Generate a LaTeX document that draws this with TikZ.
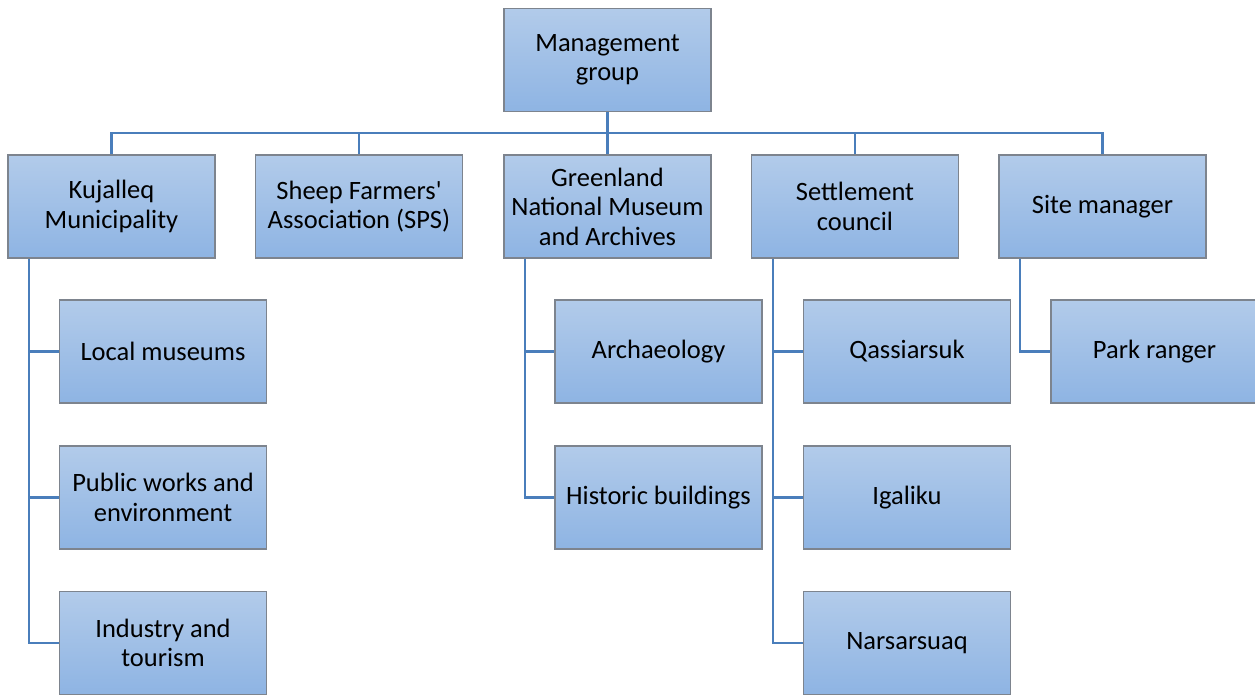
\documentclass[tikz,border=0pt]{standalone}
\usepackage{fontspec}
\setmainfont{Carlito}[Ligatures=TeXOff]
\definecolor{boxtop}{RGB}{178,203,234}
\definecolor{boxbot}{RGB}{142,180,227}
\definecolor{boxline}{RGB}{125,132,142}
\definecolor{conn}{RGB}{74,126,187}
\begin{document}
\begin{tikzpicture}[x=1pt,y=-1pt,
  box/.style={draw=boxline, line width=1.6pt, top color=boxtop, bottom color=boxbot,
    minimum width=207pt, minimum height=103pt, inner sep=0pt, align=center,
    font=\fontsize{26.5}{29.5}\selectfont},
  link/.style={draw=conn, line width=2.6pt}]
\useasboundingbox (0,0) rectangle (1255,695);
% top
\node[box] (mg) at (607.5,60) {Management\\group};
% level 1
\node[box] (kj) at (111.5,206.5) {Kujalleq\\Municipality};
\node[box] (sps) at (359,206.5) {Sheep Farmers'\\Association (SPS)};
\node[box] (gnm) at (607.5,206.5) {Greenland\\National Museum\\and Archives};
\node[box] (sc) at (855,206.5) {Settlement\\council};
\node[box] (sm) at (1102.5,206.5) {Site manager};
% level 2
\node[box] (lm) at (163,351.5) {Local museums};
\node[box] (pw) at (163,497.5) {Public works and\\environment};
\node[box] (it) at (163,643) {Industry and\\tourism};
\node[box] (ar) at (658.5,351.5) {Archaeology};
\node[box] (hb) at (658.5,497.5) {Historic buildings};
\node[box] (qa) at (907,351.5) {Qassiarsuk};
\node[box] (ig) at (907,497.5) {Igaliku};
\node[box] (na) at (907,643) {Narsarsuaq};
\node[box] (pr) at (1154.5,351.5) {Park ranger};
% connectors
\coordinate (bus) at (607.5,133);
\draw[link] (mg.south) -- (bus);
\draw[link] (kj.north) |- (bus);
\draw[link] (sps.north) |- (bus);
\draw[link] (gnm.north) -- (bus);
\draw[link] (sc.north) |- (bus);
\draw[link] (sm.north) |- (bus);
\draw[link] ([xshift=-82.5pt]kj.south) |- (lm.west);
\draw[link] ([xshift=-82.5pt]kj.south) |- (pw.west);
\draw[link] ([xshift=-82.5pt]kj.south) |- (it.west);
\draw[link] ([xshift=-82.5pt]gnm.south) |- (ar.west);
\draw[link] ([xshift=-82.5pt]gnm.south) |- (hb.west);
\draw[link] ([xshift=-82pt]sc.south) |- (qa.west);
\draw[link] ([xshift=-82pt]sc.south) |- (ig.west);
\draw[link] ([xshift=-82pt]sc.south) |- (na.west);
\draw[link] ([xshift=-82.5pt]sm.south) |- (pr.west);
\end{tikzpicture}
\end{document}
